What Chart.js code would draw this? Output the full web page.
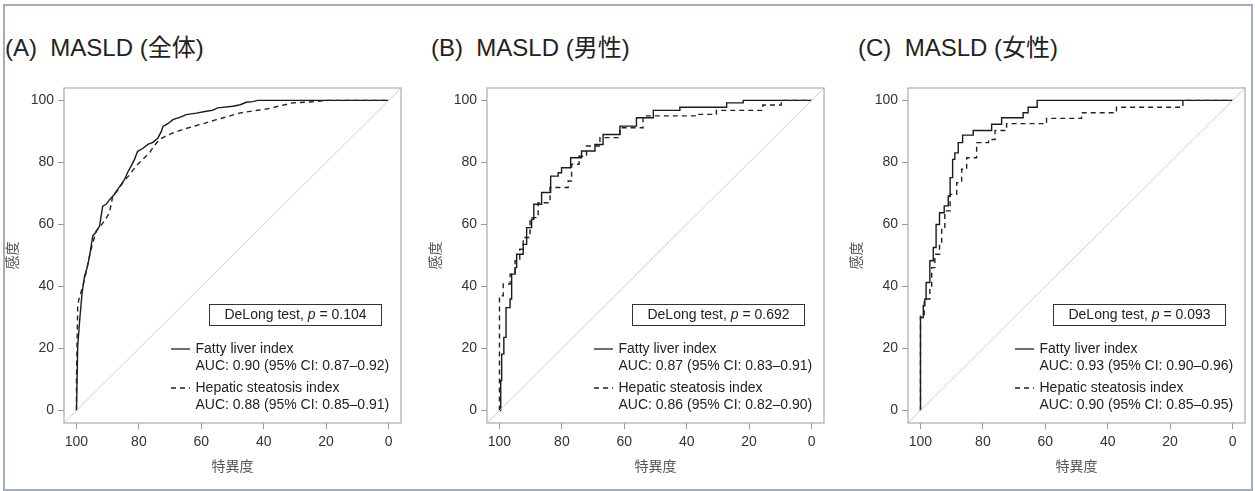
<!DOCTYPE html>
<html>
<head>
<meta charset="utf-8">
<script src="https://cdn.jsdelivr.net/npm/chart.js@4.4.1/dist/chart.umd.min.js"></script>
<style>
  body { margin: 0; background: #fff; width: 1255px; height: 491px; overflow: hidden; position: relative;
         font-family: "Liberation Sans", "Noto Sans CJK JP", sans-serif; }
  #frame { position: absolute; left: 3px; top: 4px; width: 1246px; height: 483px; border: 2px solid #a3adc0; }
  .title { position: absolute; top: 34px; font-size: 24px; line-height: 28px; color: #222; white-space: pre; }
  .panel { position: absolute; top: 0; width: 410px; height: 491px; }
</style>
</head>
<body>
<div id="frame"></div>
<div class="title" style="left:5px" id="t0"></div>
<div class="title" style="left:431px" id="t1"></div>
<div class="title" style="left:858px" id="t2"></div>
<div class="panel" style="left:0px"><canvas id="c0" width="410" height="491"></canvas></div>
<div class="panel" style="left:423px"><canvas id="c1" width="410" height="491"></canvas></div>
<div class="panel" style="left:844px"><canvas id="c2" width="410" height="491"></canvas></div>
<script>
// axis setup
const X_TICKS = [100, 80, 60, 40, 20, 0];
const Y_TICKS = [0, 20, 40, 60, 80, 100];
const AXIS_MIN = -4, AXIS_MAX = 104;

const TITLES = ['(A)  MASLD (全体)', '(B)  MASLD (男性)', '(C)  MASLD (女性)'];
const X_LABEL = '特異度';
const Y_LABEL = '感度';
const SERIES_NAMES = ['Fatty liver index', 'Hepatic steatosis index'];
const P_VALUES = ['0.104', '0.692', '0.093'];
const AUC_FLI = ['AUC: 0.90 (95% CI: 0.87–0.92)', 'AUC: 0.87 (95% CI: 0.83–0.91)', 'AUC: 0.93 (95% CI: 0.90–0.96)'];
const AUC_HSI = ['AUC: 0.88 (95% CI: 0.85–0.91)', 'AUC: 0.86 (95% CI: 0.82–0.90)', 'AUC: 0.90 (95% CI: 0.85–0.95)'];

// (A) all
const A_FLI_SPEC = [100, 99.6, 98.9, 98.2, 97.4, 96.6, 95.8, 94.8, 93.8, 92.6, 91.6, 90.5, 89.4, 88.0, 86.8, 85.6, 84.6, 83.5, 82.5, 81.4, 80.4, 78.8, 77.1, 75.5, 73.9, 72.8, 72.3, 70.7, 69.1, 66.9, 64.8, 61.6, 58.4, 56.5, 54.7, 49.9, 47.5, 45.6, 43.5, 41.9, 0];
const A_FLI_SENS = [0, 20.9, 30, 38, 43.4, 46, 49.8, 56.3, 57.5, 59.5, 65.9, 66.5, 68, 69.5, 71.3, 73, 74.5, 77, 78.8, 81, 83.6, 84.5, 85.8, 86.5, 87.9, 90, 91.6, 92.5, 93.8, 94.5, 95.4, 95.9, 96.5, 96.8, 97.6, 98.1, 98.6, 99.4, 99.6, 100, 100];
const A_HSI_SPEC = [100, 100, 99.6, 99.2, 98, 96.8, 95.8, 94.8, 93.7, 91.5, 89.4, 88.4, 86.8, 85.2, 83, 80.9, 78.8, 76.6, 75, 73.4, 71.2, 69.1, 66, 62.7, 59, 55.2, 51.5, 47.8, 43.5, 39.2, 35, 30.7, 25, 20, 0];
const A_HSI_SENS = [0, 10, 33.8, 36, 40, 45, 50, 54, 57.9, 60.5, 63.8, 69.1, 71, 73.4, 76, 78.8, 81, 83.1, 85.5, 87.4, 88.6, 89.5, 90.6, 91.6, 92.6, 93.8, 94.8, 95.9, 96.6, 97.2, 98.2, 99.2, 99.5, 100, 100];

// (B) men
const B_FLI_SPEC = [100, 99.6, 99.3, 98.6, 97.9, 96.6, 96.1, 95, 94.5, 92.4, 91.3, 89.7, 89, 86.5, 83.6, 81.2, 80.1, 77.2, 73.7, 69.4, 66.8, 61.4, 56.1, 50.7, 42.2, 27.2, 21.9, 0];
const B_FLI_SENS = [0, 9.7, 18.2, 23.6, 33.2, 36, 44, 46.1, 50.4, 53.6, 59, 61.7, 66.5, 70.3, 75.6, 76.7, 78.3, 81.5, 83.7, 85.8, 89, 91.7, 94.4, 96.8, 97.8, 99.2, 100, 100];
const B_HSI_SPEC = [100, 100, 98.8, 96.6, 95, 93.5, 92.4, 90.2, 87.6, 83.8, 78, 76.9, 74.5, 72.1, 67.8, 61.4, 54, 36.9, 30.5, 15.6, 9.7, 0];
const B_HSI_SENS = [0, 37, 40.8, 44, 48.3, 52, 55.8, 62.2, 67, 71.9, 74, 79.4, 82, 85.3, 88, 91.2, 95, 95.5, 96.8, 98.5, 100, 100];

// (C) women
const C_FLI_SPEC = [100, 100, 99.1, 98.6, 98.2, 97, 95.9, 95, 93.9, 92.4, 91.1, 90.5, 89.7, 89, 87.9, 86.5, 83.1, 77.2, 74, 67.1, 65.5, 62.6, 0];
const C_FLI_SENS = [0, 30, 33.8, 35.9, 41.3, 48.3, 52.6, 60, 63.8, 66, 69.2, 75.1, 81, 83.1, 86.4, 88.8, 90.3, 92.3, 94.4, 96, 97.8, 100, 100];
const C_HSI_SPEC = [100, 100, 98.8, 97, 96.4, 95.4, 93.9, 93.2, 92.2, 90.5, 88.4, 86.8, 85.2, 82, 78.2, 76.1, 72.4, 59.6, 48.4, 37.2, 15.9, 0];
const C_HSI_SENS = [0, 31, 36, 39.7, 46.1, 50.4, 53.6, 59, 64.4, 69.7, 73.5, 77.8, 81.5, 86.4, 87.4, 90.3, 92.5, 94.2, 96, 97.8, 100, 100];

const FONT = '"Liberation Sans", "Noto Sans CJK JP", sans-serif';
const pts = (xs, ys) => xs.map((x, i) => ({ x: x, y: ys[i] }));

// box around the plot + DeLong box + legend
const rocLegend = {
  id: 'rocLegend',
  afterDraw(chart, args, opts) {
    const ctx = chart.ctx, a = chart.chartArea;
    const L = a.left, T = a.top;
    ctx.save();
    ctx.strokeStyle = '#aaaaaa';
    ctx.lineWidth = 1.2;
    ctx.strokeRect(a.left, a.top, a.right - a.left, a.bottom - a.top);

    ctx.strokeStyle = '#333';
    ctx.lineWidth = 1;
    ctx.strokeRect(L + 145.5, T + 216.5, 172, 21);
    ctx.fillStyle = '#222';
    ctx.textBaseline = 'middle';
    ctx.textAlign = 'left';
    const norm = '14px ' + FONT, ital = 'italic 14px ' + FONT;
    const s1 = 'DeLong test, ', s2 = 'p', s3 = ' = ' + opts.p;
    ctx.font = norm; const w1 = ctx.measureText(s1).width, w3 = ctx.measureText(s3).width;
    ctx.font = ital; const w2 = ctx.measureText(s2).width;
    let x = L + 145.5 + 86 - (w1 + w2 + w3) / 2;
    const cy = T + 227.5;
    ctx.font = norm; ctx.fillText(s1, x, cy); x += w1;
    ctx.font = ital; ctx.fillText(s2, x, cy); x += w2;
    ctx.font = norm; ctx.fillText(s3, x, cy);

    const rows = [T + 261, T + 278.5, T + 300, T + 317];
    ctx.fillText(SERIES_NAMES[0], L + 131.5, rows[0]);
    ctx.fillText(opts.auc1, L + 131.5, rows[1]);
    ctx.fillText(SERIES_NAMES[1], L + 131.5, rows[2]);
    ctx.fillText(opts.auc2, L + 131.5, rows[3]);

    ctx.strokeStyle = '#222';
    ctx.lineWidth = 1.3;
    ctx.beginPath(); ctx.moveTo(L + 107, rows[0]); ctx.lineTo(L + 126, rows[0]); ctx.stroke();
    ctx.setLineDash([5, 4]);
    ctx.beginPath(); ctx.moveTo(L + 107, rows[2]); ctx.lineTo(L + 126, rows[2]); ctx.stroke();
    ctx.restore();
  }
};

function makeChart(i, fliSpec, fliSens, hsiSpec, hsiSens, stepped) {
  document.getElementById('t' + i).textContent = TITLES[i];
  new Chart(document.getElementById('c' + i), {
    type: 'line',
    data: {
      datasets: [
        { label: 'diag', data: [{ x: AXIS_MAX, y: 100 - AXIS_MAX }, { x: AXIS_MIN, y: 100 - AXIS_MIN }],
          borderColor: '#cfcfcf', borderWidth: 1, pointRadius: 0 },
        { label: SERIES_NAMES[1], data: pts(hsiSpec, hsiSens), borderColor: '#222', borderWidth: 1.4,
          borderDash: [5, 4], pointRadius: 0, stepped: stepped },
        { label: SERIES_NAMES[0], data: pts(fliSpec, fliSens), borderColor: '#1a1a1a', borderWidth: 1.4,
          pointRadius: 0, stepped: stepped }
      ]
    },
    options: {
      responsive: false,
      animation: false,
      layout: { padding: { top: 88, right: 9, bottom: 0, left: 0 } },
      plugins: {
        legend: { display: false },
        tooltip: { enabled: false },
        rocLegend: { p: P_VALUES[i], auc1: AUC_FLI[i], auc2: AUC_HSI[i] }
      },
      scales: {
        x: {
          type: 'linear', reverse: true, min: AXIS_MIN, max: AXIS_MAX,
          afterBuildTicks: s => { s.ticks = X_TICKS.map(v => ({ value: v })); },
          afterFit: s => { s.height = 68; },
          grid: { drawOnChartArea: false, tickLength: 6, color: '#999' },
          border: { display: false },
          ticks: { color: '#333', padding: 5, font: { size: 14, family: FONT }, maxRotation: 0 },
          title: { display: true, text: X_LABEL, color: '#555', padding: { top: 0, bottom: 15 },
                   font: { size: 14, family: FONT } }
        },
        y: {
          type: 'linear', min: AXIS_MIN, max: AXIS_MAX,
          afterBuildTicks: s => { s.ticks = Y_TICKS.map(v => ({ value: v })); },
          afterFit: s => { s.width = 64; },
          grid: { drawOnChartArea: false, tickLength: 6, color: '#999' },
          border: { display: false },
          ticks: { color: '#333', padding: 4, font: { size: 14, family: FONT } },
          title: { display: true, text: Y_LABEL, color: '#555', padding: { top: 5, bottom: 0 },
                   font: { size: 14, family: FONT } }
        }
      }
    },
    plugins: [rocLegend]
  });
}

makeChart(0, A_FLI_SPEC, A_FLI_SENS, A_HSI_SPEC, A_HSI_SENS, false);
makeChart(1, B_FLI_SPEC, B_FLI_SENS, B_HSI_SPEC, B_HSI_SENS, 'before');
makeChart(2, C_FLI_SPEC, C_FLI_SENS, C_HSI_SPEC, C_HSI_SENS, 'before');
</script>
</body>
</html>
